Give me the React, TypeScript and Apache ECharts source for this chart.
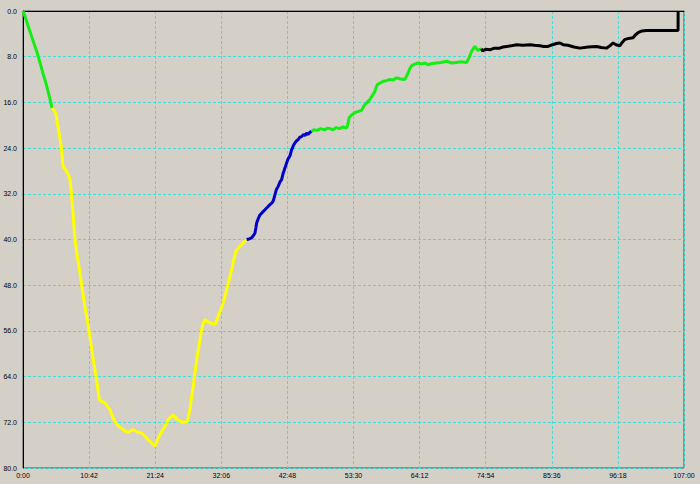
import React, { useEffect, useRef } from "react";
import * as echarts from "echarts";

// time in minutes, value on inverted axis
const green1T = [0, 0.5, 1.0, 1.6, 2.2, 2.8, 3.2, 3.6, 4.0, 4.4, 4.7];
const green1V = [0, 1.5, 3.2, 5.1, 7.0, 9.2, 10.8, 12.2, 13.8, 15.6, 17.0];

const yellowT = [4.7, 5.0, 5.35, 5.7, 6.0, 6.26, 6.4, 6.55, 6.8, 7.07, 7.4, 7.61, 7.88, 8.1, 8.41, 8.8, 9.22, 9.6, 10.03, 10.4, 10.73, 11.1, 11.38, 11.9, 12.35, 12.8, 13.27, 13.7, 14.08, 14.5, 14.89, 15.5, 16.23, 16.6, 17.04, 17.4, 17.85, 18.5, 19.21, 19.7, 20.28, 20.8, 21.36, 21.8, 22.17, 22.6, 22.98, 23.51, 24.0, 24.32, 24.7, 25.13, 25.5, 25.94, 26.59, 27.02, 27.3, 27.56, 27.83, 28.1, 28.37, 28.65, 28.92, 29.2, 29.45, 29.9, 30.26, 30.7, 31.07, 31.35, 31.6, 32.0, 32.41, 32.96, 33.4, 33.77, 34.1, 34.47, 34.8, 35.11, 35.5, 35.92, 36.2];
const yellowV = [17.0, 17.3, 18.1, 20.5, 22.5, 24.3, 26.5, 27.4, 27.6, 28.1, 28.8, 29.5, 32.5, 35.5, 40.0, 43.0, 45.8, 48.8, 51.8, 54.0, 56.3, 59.0, 61.0, 64.5, 68.0, 68.4, 68.6, 69.3, 69.8, 71.0, 71.9, 72.7, 73.3, 73.6, 73.8, 73.5, 73.3, 73.7, 73.9, 74.4, 75.1, 75.6, 76.2, 75.0, 74.2, 73.4, 72.7, 71.6, 71.0, 70.7, 71.2, 71.6, 71.9, 72.0, 71.9, 69.8, 67.5, 65.7, 63.4, 61.2, 59.3, 57.5, 55.8, 54.6, 54.0, 54.4, 54.6, 54.7, 54.9, 54.2, 53.5, 52.3, 51.1, 48.8, 47.0, 45.3, 43.6, 42.1, 41.6, 41.2, 40.8, 40.3, 40.0];

const blueT = [36.2, 36.6, 37.01, 37.3, 37.54, 37.7, 37.82, 38.1, 38.35, 38.8, 39.16, 39.6, 39.97, 40.3, 40.5, 40.78, 41.0, 41.31, 41.6, 41.86, 42.12, 42.4, 42.67, 42.9, 43.2, 43.48, 43.75, 44.01, 44.3, 44.55, 44.8, 45.1, 45.4, 45.63, 45.9, 46.17, 46.45, 46.72];
const blueV = [40.0, 39.9, 39.7, 39.3, 38.9, 38.0, 37.1, 36.3, 35.7, 35.2, 34.8, 34.3, 33.9, 33.6, 33.3, 32.2, 31.3, 30.7, 29.9, 29.5, 28.4, 27.5, 26.6, 25.9, 25.4, 24.3, 23.6, 23.1, 22.7, 22.5, 22.1, 22.0, 21.6, 21.8, 21.4, 21.6, 21.2, 21.1];

const green2T = [46.72, 47.09, 47.6, 48.2, 48.8, 49.3, 49.68, 50.2, 50.7, 51.2, 51.8, 52.38, 52.6, 52.8, 53.2, 53.72, 54.2, 54.81, 55.1, 55.34, 55.7, 56.15, 56.5, 56.96, 57.33, 57.8, 58.3, 58.8, 59.39, 59.9, 60.47, 61.1, 61.81, 62.1, 62.35, 62.6, 62.9, 63.4, 63.97, 64.5, 65.05, 65.58, 66.2, 66.94, 67.7, 68.56, 69.4, 70.18, 71.0, 71.8, 72.2, 72.61, 73.14, 73.4, 73.67, 74.22];
const green2V = [21.1, 20.8, 20.9, 20.6, 20.8, 20.5, 20.6, 20.8, 20.4, 20.6, 20.3, 20.5, 19.8, 18.7, 18.2, 17.8, 17.6, 17.4, 16.8, 16.4, 16.0, 15.5, 14.9, 14.1, 12.9, 12.6, 12.3, 12.2, 12.0, 12.1, 11.7, 11.9, 12.0, 11.4, 10.8, 10.1, 9.6, 9.3, 9.1, 9.3, 9.1, 9.4, 9.2, 9.1, 9.0, 8.8, 9.1, 9.0, 8.9, 9.0, 8.2, 7.1, 6.2, 6.6, 6.9, 6.6];

const blackT = [74.22, 74.4, 74.9, 75.57, 76.3, 77.18, 77.7, 78.27, 79.0, 79.89, 80.9, 82.04, 82.8, 83.66, 84.3, 85.0, 85.7, 86.36, 86.9, 87.44, 88.2, 89.2, 90.14, 91.5, 92.83, 93.6, 94.45, 95.0, 95.52, 96.0, 96.6, 97.0, 97.41, 98.0, 98.75, 99.1, 99.56, 100.2, 100.92, 106.04, 106.05];
const blackV = [6.6, 7.0, 6.7, 6.8, 6.5, 6.5, 6.3, 6.2, 6.1, 5.9, 6.0, 5.9, 6.0, 6.1, 6.2, 6.2, 5.9, 5.7, 5.6, 5.9, 6.0, 6.3, 6.5, 6.3, 6.2, 6.4, 6.5, 6.1, 5.6, 5.9, 6.1, 5.5, 5.0, 4.8, 4.7, 4.2, 3.8, 3.5, 3.4, 3.4, 0];

const X_MAX_SEC = 6420;
const X_STEP_SEC = 642;
const Y_MIN = 0;
const Y_MAX = 80;
const Y_STEP = 8;

function pairs(t: number[], v: number[]) {
  return t.map((m, i) => [Math.round(m * 60 * 10) / 10, v[i]]);
}

function fmtTime(sec: number) {
  const s = Math.round(sec);
  const m = Math.floor(s / 60);
  const r = s % 60;
  return `${m}:${r < 10 ? "0" + r : r}`;
}

export default function App() {
  const ref = useRef<HTMLDivElement>(null);
  useEffect(() => {
    if (!ref.current) return;
    const chart = echarts.init(ref.current, undefined, { renderer: "svg" });
    const mk = (color: string, t: number[], v: number[]) => ({
      type: "line",
      data: pairs(t, v),
      showSymbol: false,
      symbol: "none",
      lineStyle: { color, width: 3 },
      z: 3,
    });
    chart.setOption({
      animation: false,
      backgroundColor: "#d4d0c8",
      grid: {
        left: 23,
        top: 11,
        width: 661,
        height: 457,
        show: true,
        borderColor: "#505050",
        borderWidth: 1,
        backgroundColor: "transparent",
      },
      xAxis: {
        type: "value",
        min: 0,
        max: X_MAX_SEC,
        interval: X_STEP_SEC,
        axisLine: { show: true, lineStyle: { color: "#000", width: 1 } },
        axisTick: { show: false },
        splitLine: {
          show: true,
          lineStyle: { color: "#40e0d8", width: 1, type: [3, 2] },
        },
        axisLabel: {
          formatter: (v: number) => fmtTime(v),
          color: "#000",
          fontSize: 7,
          fontFamily: "Liberation Sans",
          margin: 4,
          showMinLabel: true,
          showMaxLabel: true,
        },
      },
      yAxis: {
        type: "value",
        inverse: true,
        min: Y_MIN,
        max: Y_MAX,
        interval: Y_STEP,
        axisLine: { show: true, lineStyle: { color: "#000", width: 1 } },
        axisTick: { show: false },
        splitLine: {
          show: true,
          lineStyle: { color: "#40e0d8", width: 1, type: [3, 2] },
        },
        axisLabel: {
          formatter: (v: number) => v.toFixed(1),
          color: "#000",
          fontSize: 7,
          fontFamily: "Liberation Sans",
          margin: 6,
        },
      },
      series: [
        mk("#14ee14", green1T, green1V),
        mk("#ffff00", yellowT, yellowV),
        mk("#0000cc", blueT, blueV),
        mk("#14ee14", green2T, green2V),
        mk("#000000", blackT, blackV),
      ],
    });
    return () => chart.dispose();
  }, []);
  return (
    <div
      ref={ref}
      style={{ position: "fixed", left: 0, top: 0, width: 700, height: 484 }}
    />
  );
}
